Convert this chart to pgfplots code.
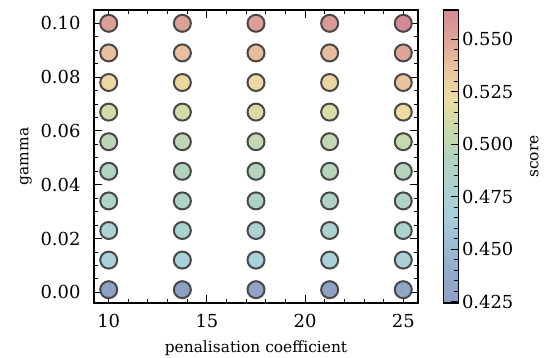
\documentclass[border=0pt]{standalone}
\usepackage{fontspec}
\setmainfont{DejaVu Serif}
\usepackage{pgfplots}
\usepackage{pgfplotstable}
\pgfplotsset{compat=1.18}
\definecolor{edgec}{RGB}{72,72,72}
\pgfplotsset{
  /pgf/number format/assume math mode=true,
  every tick label/.append style={font=\fontsize{18}{20}\selectfont},
  every axis label/.append style={font=\fontsize{15.5}{18}\selectfont},
}
\pgfplotstableread{
x y s
10 0.001 0.427
13.75 0.001 0.4245
17.5 0.001 0.428
21.25 0.001 0.426
25 0.001 0.434
10 0.012 0.470
13.75 0.012 0.470
17.5 0.012 0.471
21.25 0.012 0.471
25 0.012 0.473
10 0.023 0.478
13.75 0.023 0.478
17.5 0.023 0.479
21.25 0.023 0.480
25 0.023 0.482
10 0.034 0.487
13.75 0.034 0.487
17.5 0.034 0.488
21.25 0.034 0.489
25 0.034 0.490
10 0.045 0.493
13.75 0.045 0.494
17.5 0.045 0.496
21.25 0.045 0.497
25 0.045 0.495
10 0.056 0.500
13.75 0.056 0.500
17.5 0.056 0.503
21.25 0.056 0.503
25 0.056 0.505
10 0.067 0.512
13.75 0.067 0.512
17.5 0.067 0.514
21.25 0.067 0.515
25 0.067 0.522
10 0.078 0.525
13.75 0.078 0.525
17.5 0.078 0.525
21.25 0.078 0.526
25 0.078 0.537
10 0.089 0.538
13.75 0.089 0.538
17.5 0.089 0.539
21.25 0.089 0.540
25 0.089 0.550
10 0.100 0.552
13.75 0.100 0.552
17.5 0.100 0.553
21.25 0.100 0.556
25 0.100 0.564
}\scores
\begin{document}
\begin{tikzpicture}
\useasboundingbox (-94bp,-55bp) rectangle (452bp,303bp);
\begin{axis}[
  at={(0,0)}, anchor=south west,
  scale only axis, width=324bp, height=293bp,
  xmin=9.25, xmax=25.75, ymin=-0.00395, ymax=0.10495,
  xtick={10,15,20,25}, minor x tick num=4,
  ytick={0,0.02,0.04,0.06,0.08,0.1}, minor y tick num=3,
  tick align=inside, xtick pos=both, ytick pos=both,
  major tick length=8bp, minor tick length=4.5bp,
  every tick/.style={line width=1bp, black},
  axis line style={line width=1.2bp},
  yticklabel style={xshift=-10bp, /pgf/number format/.cd, fixed, fixed zerofill, precision=2},
  xticklabel style={yshift=-8bp, /pgf/number format/.cd, fixed, precision=0},
  scaled y ticks=false,
  xlabel={penalisation coefficient}, ylabel={gamma},
  xlabel style={yshift=-6bp}, ylabel style={yshift=2bp},
  axis on top,
  colormap={sc}{rgb255=(140,160,198) rgb255=(146,170,203) rgb255=(155,188,210) rgb255=(168,208,220) rgb255=(170,210,208) rgb255=(178,212,190) rgb255=(204,218,168) rgb255=(238,220,162) rgb255=(234,196,158) rgb255=(222,164,152) rgb255=(212,138,148)},
  point meta min=0.4245, point meta max=0.564,
  colorbar,
  colorbar style={
    at={(parent axis.south east)}, anchor=south west, xshift=17bp,
    scale only axis, width=15bp, height=293bp,
    ytick={0.425,0.45,0.475,0.5,0.525,0.55}, minor y tick num=4,
    ytick pos=right, yticklabel pos=right, tick align=inside,
    major tick length=8bp, minor tick length=4.5bp,
    every tick/.style={line width=1bp, black},
    axis line style={line width=1.2bp},
    yticklabel style={/pgf/number format/.cd, fixed, fixed zerofill, precision=3},
    scaled y ticks=false,
    ylabel={score}, ylabel style={yshift=-10bp},
  },
]
\addplot[scatter, only marks, mark=*, mark size=8.5bp, point meta=explicit,
  scatter/use mapped color={draw=edgec, fill=mapped color},
  mark options={line width=2bp}]
  table[x=x, y=y, meta=s] {\scores};
\end{axis}
\end{tikzpicture}
\end{document}
